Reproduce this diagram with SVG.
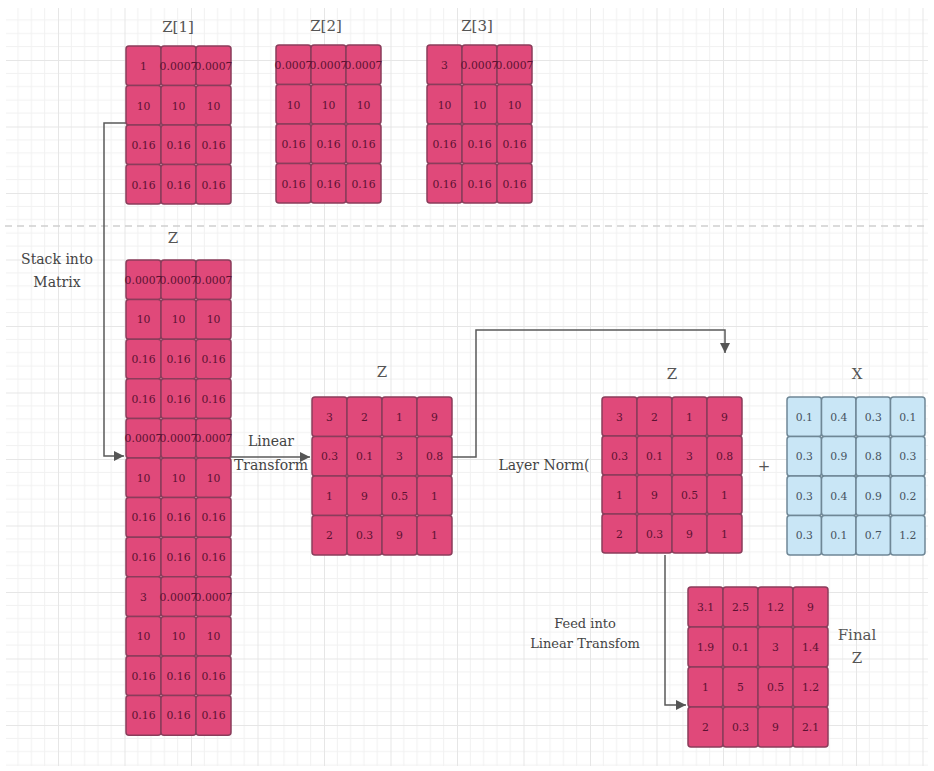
<svg xmlns="http://www.w3.org/2000/svg" width="934" height="771" viewBox="0 0 934 771">
<style>
.c{fill:#e0497a;stroke:#8a3d5b;stroke-width:1.5}
.b{fill:#c9e6f6;stroke:#6f8796;stroke-width:1.5}
.t{font-family:"DejaVu Serif","Liberation Serif","Noto Serif",serif;font-size:10.8px;fill:#5c1232;text-anchor:middle}
.tb{font-family:"DejaVu Serif","Liberation Serif","Noto Serif",serif;font-size:10.8px;fill:#46535f;text-anchor:middle}
.h{font-family:"DejaVu Serif","Liberation Serif","Noto Serif",serif;font-size:15px;fill:#555;text-anchor:middle}
.l{font-family:"DejaVu Serif","Liberation Serif","Noto Serif",serif;font-size:14px;fill:#444;text-anchor:middle}
.k{fill:none;stroke:#5a5a5a;stroke-width:1.5}
</style>
<defs>
<pattern id="grid" patternUnits="userSpaceOnUse" x="58" y="60" width="66.5" height="66.5">
<path d="M13.3,0V66.5M26.6,0V66.5M39.9,0V66.5M53.2,0V66.5M0,13.3H66.5M0,26.6H66.5M0,39.9H66.5M0,53.2H66.5" stroke="#f1f1f1" stroke-width="1" fill="none"/>
<path d="M0.5,0V66.5M0,0.5H66.5" stroke="#e6e6e6" stroke-width="1" fill="none"/>
</pattern>
<marker id="arr" markerUnits="userSpaceOnUse" markerWidth="12" markerHeight="10" refX="10" refY="5" orient="auto">
<path d="M0,0L10,5L0,10z" fill="#555"/>
</marker>
</defs>
<rect width="934" height="771" fill="#fff"/>
<rect x="6" y="8" width="922" height="758" fill="url(#grid)"/>
<path d="M5,226H929" stroke="#cfcfcf" stroke-width="1.5" stroke-dasharray="7,5" fill="none"/>

<g id="connectors">
<path class="k" d="M126,123H104V456H124" marker-end="url(#arr)"/>
<path class="k" d="M231,457H310" marker-end="url(#arr)"/>
<path class="k" d="M452,457H476V330H725V353" marker-end="url(#arr)"/>
<path class="k" d="M665,555V705H686" marker-end="url(#arr)"/>
</g>

<g id="z1">
<text class="h" x="178" y="32">Z[1]</text>
<rect class="c" x="126" y="46" width="35" height="39.5" rx="3"/><rect class="c" x="161" y="46" width="35" height="39.5" rx="3"/><rect class="c" x="196" y="46" width="35" height="39.5" rx="3"/>
<rect class="c" x="126" y="85.5" width="35" height="39.5" rx="3"/><rect class="c" x="161" y="85.5" width="35" height="39.5" rx="3"/><rect class="c" x="196" y="85.5" width="35" height="39.5" rx="3"/>
<rect class="c" x="126" y="125" width="35" height="39.5" rx="3"/><rect class="c" x="161" y="125" width="35" height="39.5" rx="3"/><rect class="c" x="196" y="125" width="35" height="39.5" rx="3"/>
<rect class="c" x="126" y="164.5" width="35" height="39.5" rx="3"/><rect class="c" x="161" y="164.5" width="35" height="39.5" rx="3"/><rect class="c" x="196" y="164.5" width="35" height="39.5" rx="3"/>
<text class="t" x="143.5" y="70">1</text><text class="t" x="178.5" y="70">0.0007</text><text class="t" x="213.5" y="70">0.0007</text>
<text class="t" x="143.5" y="109.5">10</text><text class="t" x="178.5" y="109.5">10</text><text class="t" x="213.5" y="109.5">10</text>
<text class="t" x="143.5" y="149">0.16</text><text class="t" x="178.5" y="149">0.16</text><text class="t" x="213.5" y="149">0.16</text>
<text class="t" x="143.5" y="188.5">0.16</text><text class="t" x="178.5" y="188.5">0.16</text><text class="t" x="213.5" y="188.5">0.16</text>
</g>

<g id="z2">
<text class="h" x="326" y="31">Z[2]</text>
<rect class="c" x="276" y="45" width="35" height="39.5" rx="3"/><rect class="c" x="311" y="45" width="35" height="39.5" rx="3"/><rect class="c" x="346" y="45" width="35" height="39.5" rx="3"/>
<rect class="c" x="276" y="84.5" width="35" height="39.5" rx="3"/><rect class="c" x="311" y="84.5" width="35" height="39.5" rx="3"/><rect class="c" x="346" y="84.5" width="35" height="39.5" rx="3"/>
<rect class="c" x="276" y="124" width="35" height="39.5" rx="3"/><rect class="c" x="311" y="124" width="35" height="39.5" rx="3"/><rect class="c" x="346" y="124" width="35" height="39.5" rx="3"/>
<rect class="c" x="276" y="163.5" width="35" height="39.5" rx="3"/><rect class="c" x="311" y="163.5" width="35" height="39.5" rx="3"/><rect class="c" x="346" y="163.5" width="35" height="39.5" rx="3"/>
<text class="t" x="293.5" y="69">0.0007</text><text class="t" x="328.5" y="69">0.0007</text><text class="t" x="363.5" y="69">0.0007</text>
<text class="t" x="293.5" y="108.5">10</text><text class="t" x="328.5" y="108.5">10</text><text class="t" x="363.5" y="108.5">10</text>
<text class="t" x="293.5" y="148">0.16</text><text class="t" x="328.5" y="148">0.16</text><text class="t" x="363.5" y="148">0.16</text>
<text class="t" x="293.5" y="187.5">0.16</text><text class="t" x="328.5" y="187.5">0.16</text><text class="t" x="363.5" y="187.5">0.16</text>
</g>

<g id="z3">
<text class="h" x="477" y="31">Z[3]</text>
<rect class="c" x="427" y="45" width="35" height="39.5" rx="3"/><rect class="c" x="462" y="45" width="35" height="39.5" rx="3"/><rect class="c" x="497" y="45" width="35" height="39.5" rx="3"/>
<rect class="c" x="427" y="84.5" width="35" height="39.5" rx="3"/><rect class="c" x="462" y="84.5" width="35" height="39.5" rx="3"/><rect class="c" x="497" y="84.5" width="35" height="39.5" rx="3"/>
<rect class="c" x="427" y="124" width="35" height="39.5" rx="3"/><rect class="c" x="462" y="124" width="35" height="39.5" rx="3"/><rect class="c" x="497" y="124" width="35" height="39.5" rx="3"/>
<rect class="c" x="427" y="163.5" width="35" height="39.5" rx="3"/><rect class="c" x="462" y="163.5" width="35" height="39.5" rx="3"/><rect class="c" x="497" y="163.5" width="35" height="39.5" rx="3"/>
<text class="t" x="444.5" y="69">3</text><text class="t" x="479.5" y="69">0.0007</text><text class="t" x="514.5" y="69">0.0007</text>
<text class="t" x="444.5" y="108.5">10</text><text class="t" x="479.5" y="108.5">10</text><text class="t" x="514.5" y="108.5">10</text>
<text class="t" x="444.5" y="148">0.16</text><text class="t" x="479.5" y="148">0.16</text><text class="t" x="514.5" y="148">0.16</text>
<text class="t" x="444.5" y="187.5">0.16</text><text class="t" x="479.5" y="187.5">0.16</text><text class="t" x="514.5" y="187.5">0.16</text>
</g>

<g id="stack-label">
<text class="l" x="57" y="264">Stack into</text>
<text class="l" x="57" y="287">Matrix</text>
</g>

<g id="zbig">
<text class="h" x="173" y="243">Z</text>
<rect class="c" x="126" y="260" width="35" height="39.6" rx="3"/><rect class="c" x="161" y="260" width="35" height="39.6" rx="3"/><rect class="c" x="196" y="260" width="35" height="39.6" rx="3"/>
<rect class="c" x="126" y="299.6" width="35" height="39.6" rx="3"/><rect class="c" x="161" y="299.6" width="35" height="39.6" rx="3"/><rect class="c" x="196" y="299.6" width="35" height="39.6" rx="3"/>
<rect class="c" x="126" y="339.2" width="35" height="39.6" rx="3"/><rect class="c" x="161" y="339.2" width="35" height="39.6" rx="3"/><rect class="c" x="196" y="339.2" width="35" height="39.6" rx="3"/>
<rect class="c" x="126" y="378.8" width="35" height="39.6" rx="3"/><rect class="c" x="161" y="378.8" width="35" height="39.6" rx="3"/><rect class="c" x="196" y="378.8" width="35" height="39.6" rx="3"/>
<rect class="c" x="126" y="418.4" width="35" height="39.6" rx="3"/><rect class="c" x="161" y="418.4" width="35" height="39.6" rx="3"/><rect class="c" x="196" y="418.4" width="35" height="39.6" rx="3"/>
<rect class="c" x="126" y="458" width="35" height="39.6" rx="3"/><rect class="c" x="161" y="458" width="35" height="39.6" rx="3"/><rect class="c" x="196" y="458" width="35" height="39.6" rx="3"/>
<rect class="c" x="126" y="497.6" width="35" height="39.6" rx="3"/><rect class="c" x="161" y="497.6" width="35" height="39.6" rx="3"/><rect class="c" x="196" y="497.6" width="35" height="39.6" rx="3"/>
<rect class="c" x="126" y="537.2" width="35" height="39.6" rx="3"/><rect class="c" x="161" y="537.2" width="35" height="39.6" rx="3"/><rect class="c" x="196" y="537.2" width="35" height="39.6" rx="3"/>
<rect class="c" x="126" y="576.8" width="35" height="39.6" rx="3"/><rect class="c" x="161" y="576.8" width="35" height="39.6" rx="3"/><rect class="c" x="196" y="576.8" width="35" height="39.6" rx="3"/>
<rect class="c" x="126" y="616.4" width="35" height="39.6" rx="3"/><rect class="c" x="161" y="616.4" width="35" height="39.6" rx="3"/><rect class="c" x="196" y="616.4" width="35" height="39.6" rx="3"/>
<rect class="c" x="126" y="656" width="35" height="39.6" rx="3"/><rect class="c" x="161" y="656" width="35" height="39.6" rx="3"/><rect class="c" x="196" y="656" width="35" height="39.6" rx="3"/>
<rect class="c" x="126" y="695.6" width="35" height="39.6" rx="3"/><rect class="c" x="161" y="695.6" width="35" height="39.6" rx="3"/><rect class="c" x="196" y="695.6" width="35" height="39.6" rx="3"/>
<text class="t" x="143.5" y="283.8">0.0007</text><text class="t" x="178.5" y="283.8">0.0007</text><text class="t" x="213.5" y="283.8">0.0007</text>
<text class="t" x="143.5" y="323.4">10</text><text class="t" x="178.5" y="323.4">10</text><text class="t" x="213.5" y="323.4">10</text>
<text class="t" x="143.5" y="363">0.16</text><text class="t" x="178.5" y="363">0.16</text><text class="t" x="213.5" y="363">0.16</text>
<text class="t" x="143.5" y="402.6">0.16</text><text class="t" x="178.5" y="402.6">0.16</text><text class="t" x="213.5" y="402.6">0.16</text>
<text class="t" x="143.5" y="442.2">0.0007</text><text class="t" x="178.5" y="442.2">0.0007</text><text class="t" x="213.5" y="442.2">0.0007</text>
<text class="t" x="143.5" y="481.8">10</text><text class="t" x="178.5" y="481.8">10</text><text class="t" x="213.5" y="481.8">10</text>
<text class="t" x="143.5" y="521.4">0.16</text><text class="t" x="178.5" y="521.4">0.16</text><text class="t" x="213.5" y="521.4">0.16</text>
<text class="t" x="143.5" y="561">0.16</text><text class="t" x="178.5" y="561">0.16</text><text class="t" x="213.5" y="561">0.16</text>
<text class="t" x="143.5" y="600.6">3</text><text class="t" x="178.5" y="600.6">0.0007</text><text class="t" x="213.5" y="600.6">0.0007</text>
<text class="t" x="143.5" y="640.2">10</text><text class="t" x="178.5" y="640.2">10</text><text class="t" x="213.5" y="640.2">10</text>
<text class="t" x="143.5" y="679.8">0.16</text><text class="t" x="178.5" y="679.8">0.16</text><text class="t" x="213.5" y="679.8">0.16</text>
<text class="t" x="143.5" y="719.4">0.16</text><text class="t" x="178.5" y="719.4">0.16</text><text class="t" x="213.5" y="719.4">0.16</text>
</g>

<g id="linear-label">
<text class="l" x="271" y="446">Linear</text>
<text class="l" x="271" y="470">Transform</text>
</g>

<g id="zmid">
<text class="h" x="382" y="377">Z</text>
<rect class="c" x="312" y="397" width="35" height="39.5" rx="3"/><rect class="c" x="347" y="397" width="35" height="39.5" rx="3"/><rect class="c" x="382" y="397" width="35" height="39.5" rx="3"/><rect class="c" x="417" y="397" width="35" height="39.5" rx="3"/>
<rect class="c" x="312" y="436.5" width="35" height="39.5" rx="3"/><rect class="c" x="347" y="436.5" width="35" height="39.5" rx="3"/><rect class="c" x="382" y="436.5" width="35" height="39.5" rx="3"/><rect class="c" x="417" y="436.5" width="35" height="39.5" rx="3"/>
<rect class="c" x="312" y="476" width="35" height="39.5" rx="3"/><rect class="c" x="347" y="476" width="35" height="39.5" rx="3"/><rect class="c" x="382" y="476" width="35" height="39.5" rx="3"/><rect class="c" x="417" y="476" width="35" height="39.5" rx="3"/>
<rect class="c" x="312" y="515.5" width="35" height="39.5" rx="3"/><rect class="c" x="347" y="515.5" width="35" height="39.5" rx="3"/><rect class="c" x="382" y="515.5" width="35" height="39.5" rx="3"/><rect class="c" x="417" y="515.5" width="35" height="39.5" rx="3"/>
<text class="t" x="329.5" y="420.8">3</text><text class="t" x="364.5" y="420.8">2</text><text class="t" x="399.5" y="420.8">1</text><text class="t" x="434.5" y="420.8">9</text>
<text class="t" x="329.5" y="460.3">0.3</text><text class="t" x="364.5" y="460.3">0.1</text><text class="t" x="399.5" y="460.3">3</text><text class="t" x="434.5" y="460.3">0.8</text>
<text class="t" x="329.5" y="499.8">1</text><text class="t" x="364.5" y="499.8">9</text><text class="t" x="399.5" y="499.8">0.5</text><text class="t" x="434.5" y="499.8">1</text>
<text class="t" x="329.5" y="539.3">2</text><text class="t" x="364.5" y="539.3">0.3</text><text class="t" x="399.5" y="539.3">9</text><text class="t" x="434.5" y="539.3">1</text>
</g>

<g id="layernorm-label">
<text class="l" x="544" y="470">Layer Norm(</text>
</g>

<g id="zln">
<text class="h" x="672" y="379">Z</text>
<rect class="c" x="602" y="397" width="35" height="39" rx="3"/><rect class="c" x="637" y="397" width="35" height="39" rx="3"/><rect class="c" x="672" y="397" width="35" height="39" rx="3"/><rect class="c" x="707" y="397" width="35" height="39" rx="3"/>
<rect class="c" x="602" y="436" width="35" height="39" rx="3"/><rect class="c" x="637" y="436" width="35" height="39" rx="3"/><rect class="c" x="672" y="436" width="35" height="39" rx="3"/><rect class="c" x="707" y="436" width="35" height="39" rx="3"/>
<rect class="c" x="602" y="475" width="35" height="39" rx="3"/><rect class="c" x="637" y="475" width="35" height="39" rx="3"/><rect class="c" x="672" y="475" width="35" height="39" rx="3"/><rect class="c" x="707" y="475" width="35" height="39" rx="3"/>
<rect class="c" x="602" y="514" width="35" height="39" rx="3"/><rect class="c" x="637" y="514" width="35" height="39" rx="3"/><rect class="c" x="672" y="514" width="35" height="39" rx="3"/><rect class="c" x="707" y="514" width="35" height="39" rx="3"/>
<text class="t" x="619.5" y="420.5">3</text><text class="t" x="654.5" y="420.5">2</text><text class="t" x="689.5" y="420.5">1</text><text class="t" x="724.5" y="420.5">9</text>
<text class="t" x="619.5" y="459.5">0.3</text><text class="t" x="654.5" y="459.5">0.1</text><text class="t" x="689.5" y="459.5">3</text><text class="t" x="724.5" y="459.5">0.8</text>
<text class="t" x="619.5" y="498.5">1</text><text class="t" x="654.5" y="498.5">9</text><text class="t" x="689.5" y="498.5">0.5</text><text class="t" x="724.5" y="498.5">1</text>
<text class="t" x="619.5" y="537.5">2</text><text class="t" x="654.5" y="537.5">0.3</text><text class="t" x="689.5" y="537.5">9</text><text class="t" x="724.5" y="537.5">1</text>
</g>

<g id="plus">
<text class="h" x="764" y="471">+</text>
</g>

<g id="x">
<text class="h" x="857" y="379">X</text>
<rect class="b" x="787" y="397" width="34.5" height="39.5" rx="3"/><rect class="b" x="821.5" y="397" width="34.5" height="39.5" rx="3"/><rect class="b" x="856" y="397" width="34.5" height="39.5" rx="3"/><rect class="b" x="890.5" y="397" width="34.5" height="39.5" rx="3"/>
<rect class="b" x="787" y="436.5" width="34.5" height="39.5" rx="3"/><rect class="b" x="821.5" y="436.5" width="34.5" height="39.5" rx="3"/><rect class="b" x="856" y="436.5" width="34.5" height="39.5" rx="3"/><rect class="b" x="890.5" y="436.5" width="34.5" height="39.5" rx="3"/>
<rect class="b" x="787" y="476" width="34.5" height="39.5" rx="3"/><rect class="b" x="821.5" y="476" width="34.5" height="39.5" rx="3"/><rect class="b" x="856" y="476" width="34.5" height="39.5" rx="3"/><rect class="b" x="890.5" y="476" width="34.5" height="39.5" rx="3"/>
<rect class="b" x="787" y="515.5" width="34.5" height="39.5" rx="3"/><rect class="b" x="821.5" y="515.5" width="34.5" height="39.5" rx="3"/><rect class="b" x="856" y="515.5" width="34.5" height="39.5" rx="3"/><rect class="b" x="890.5" y="515.5" width="34.5" height="39.5" rx="3"/>
<text class="tb" x="804.25" y="420.8">0.1</text><text class="tb" x="838.75" y="420.8">0.4</text><text class="tb" x="873.25" y="420.8">0.3</text><text class="tb" x="907.75" y="420.8">0.1</text>
<text class="tb" x="804.25" y="460.3">0.3</text><text class="tb" x="838.75" y="460.3">0.9</text><text class="tb" x="873.25" y="460.3">0.8</text><text class="tb" x="907.75" y="460.3">0.3</text>
<text class="tb" x="804.25" y="499.8">0.3</text><text class="tb" x="838.75" y="499.8">0.4</text><text class="tb" x="873.25" y="499.8">0.9</text><text class="tb" x="907.75" y="499.8">0.2</text>
<text class="tb" x="804.25" y="539.3">0.3</text><text class="tb" x="838.75" y="539.3">0.1</text><text class="tb" x="873.25" y="539.3">0.7</text><text class="tb" x="907.75" y="539.3">1.2</text>
</g>

<g id="feed-label">
<text class="l" x="585" y="628" style="font-size:13px">Feed into</text>
<text class="l" x="585" y="648" style="font-size:13px">Linear Transfom</text>
</g>

<g id="zfinal">
<rect class="c" x="688" y="587" width="35" height="40" rx="3"/><rect class="c" x="723" y="587" width="35" height="40" rx="3"/><rect class="c" x="758" y="587" width="35" height="40" rx="3"/><rect class="c" x="793" y="587" width="35" height="40" rx="3"/>
<rect class="c" x="688" y="627" width="35" height="40" rx="3"/><rect class="c" x="723" y="627" width="35" height="40" rx="3"/><rect class="c" x="758" y="627" width="35" height="40" rx="3"/><rect class="c" x="793" y="627" width="35" height="40" rx="3"/>
<rect class="c" x="688" y="667" width="35" height="40" rx="3"/><rect class="c" x="723" y="667" width="35" height="40" rx="3"/><rect class="c" x="758" y="667" width="35" height="40" rx="3"/><rect class="c" x="793" y="667" width="35" height="40" rx="3"/>
<rect class="c" x="688" y="707" width="35" height="40" rx="3"/><rect class="c" x="723" y="707" width="35" height="40" rx="3"/><rect class="c" x="758" y="707" width="35" height="40" rx="3"/><rect class="c" x="793" y="707" width="35" height="40" rx="3"/>
<text class="t" x="705.5" y="611">3.1</text><text class="t" x="740.5" y="611">2.5</text><text class="t" x="775.5" y="611">1.2</text><text class="t" x="810.5" y="611">9</text>
<text class="t" x="705.5" y="651">1.9</text><text class="t" x="740.5" y="651">0.1</text><text class="t" x="775.5" y="651">3</text><text class="t" x="810.5" y="651">1.4</text>
<text class="t" x="705.5" y="691">1</text><text class="t" x="740.5" y="691">5</text><text class="t" x="775.5" y="691">0.5</text><text class="t" x="810.5" y="691">1.2</text>
<text class="t" x="705.5" y="731">2</text><text class="t" x="740.5" y="731">0.3</text><text class="t" x="775.5" y="731">9</text><text class="t" x="810.5" y="731">2.1</text>
</g>

<g id="final-label">
<text class="h" x="857" y="640">Final</text>
<text class="h" x="857" y="663">Z</text>
</g>
</svg>
